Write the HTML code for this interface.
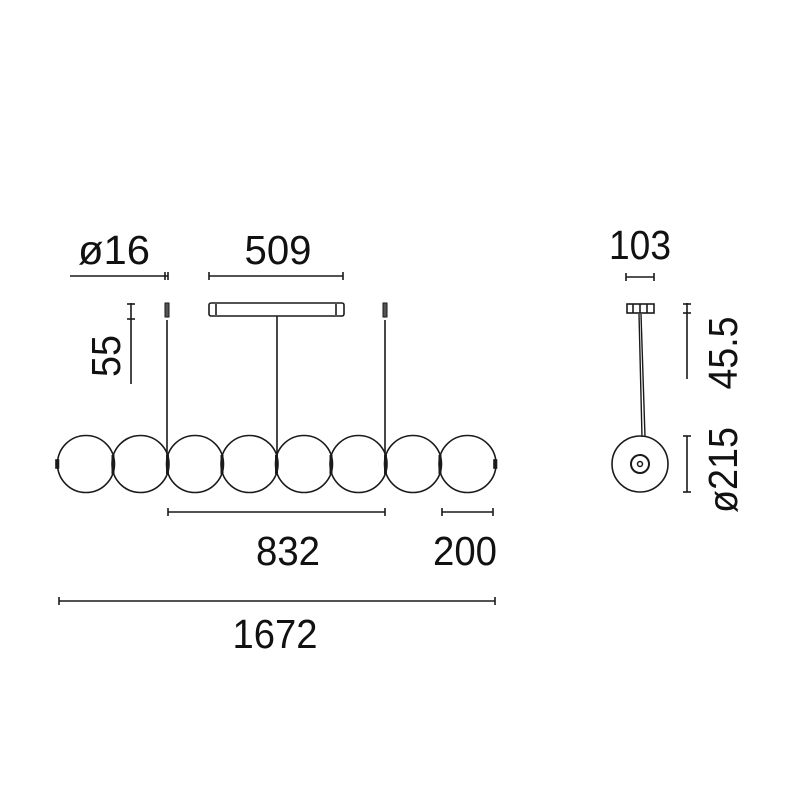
<!DOCTYPE html>
<html><head><meta charset="utf-8"><style>html,body{margin:0;padding:0;background:#fff}svg{display:block}</style></head>
<body>
<svg width="800" height="800" viewBox="0 0 800 800" xmlns="http://www.w3.org/2000/svg">
<rect width="800" height="800" fill="#fff"/>
<g fill="none" stroke="#1a1a1a" stroke-width="1.6">
  <!-- globes -->
  <circle cx="86" cy="464" r="28.5"/>
  <circle cx="140.5" cy="464" r="28.5"/>
  <circle cx="195" cy="464" r="28.5"/>
  <circle cx="249.5" cy="464" r="28.5"/>
  <circle cx="304" cy="464" r="28.5"/>
  <circle cx="358.5" cy="464" r="28.5"/>
  <circle cx="413" cy="464" r="28.5"/>
  <circle cx="467.5" cy="464" r="28.5"/>
  <!-- joints -->
  <g stroke-width="3">
    <line x1="113" y1="455" x2="113" y2="474"/>
    <line x1="167.5" y1="455" x2="167.5" y2="474"/>
    <line x1="222" y1="455" x2="222" y2="474"/>
    <line x1="276.5" y1="455" x2="276.5" y2="474"/>
    <line x1="331" y1="455" x2="331" y2="474"/>
    <line x1="385.5" y1="455" x2="385.5" y2="474"/>
    <line x1="440" y1="455" x2="440" y2="474"/>
  </g>
  <rect x="56" y="460" width="2.5" height="8" fill="#1a1a1a"/>
  <rect x="494" y="460" width="2.5" height="8" fill="#1a1a1a"/>
  <!-- cables -->
  <line x1="167" y1="320" x2="167" y2="456"/>
  <line x1="277" y1="316" x2="277" y2="456"/>
  <line x1="385" y1="320" x2="385" y2="456"/>
  <rect x="165" y="303" width="4" height="14" fill="#555" stroke-width="1"/>
  <rect x="383" y="303" width="4" height="14" fill="#555" stroke-width="1"/>
  <!-- canopy -->
  <rect x="209" y="303" width="135" height="13" rx="2"/>
  <line x1="216" y1="304" x2="216" y2="315"/>
  <line x1="336" y1="304" x2="336" y2="315"/>
  <!-- dims left -->
  <line x1="70" y1="276" x2="168" y2="276"/>
  <line x1="165" y1="272" x2="165" y2="280"/>
  <line x1="168" y1="272" x2="168" y2="280"/>
  <line x1="209" y1="276" x2="343" y2="276"/>
  <line x1="209" y1="272" x2="209" y2="280"/>
  <line x1="343" y1="272" x2="343" y2="280"/>
  <line x1="131" y1="303" x2="131" y2="384"/>
  <line x1="127" y1="304" x2="135" y2="304"/>
  <line x1="127" y1="319" x2="135" y2="319"/>
  <line x1="168" y1="512" x2="385" y2="512"/>
  <line x1="168" y1="508" x2="168" y2="516"/>
  <line x1="385" y1="508" x2="385" y2="516"/>
  <line x1="442" y1="512" x2="493" y2="512"/>
  <line x1="442" y1="508" x2="442" y2="516"/>
  <line x1="493" y1="508" x2="493" y2="516"/>
  <line x1="59" y1="601" x2="495" y2="601"/>
  <line x1="59" y1="597" x2="59" y2="605"/>
  <line x1="495" y1="597" x2="495" y2="605"/>
  <!-- side view -->
  <rect x="627" y="304" width="27" height="9"/>
  <line x1="633" y1="304" x2="633" y2="313"/>
  <line x1="640" y1="304" x2="640" y2="313"/>
  <line x1="647" y1="304" x2="647" y2="313"/>
  <line x1="639" y1="314" x2="642" y2="437" stroke-width="1.4"/>
  <line x1="641" y1="314" x2="645" y2="437" stroke-width="1.4"/>
  <circle cx="640" cy="464" r="28"/>
  <circle cx="640" cy="464" r="9" stroke-width="2"/>
  <circle cx="640" cy="464" r="2.5" stroke-width="1.5"/>
  <line x1="626" y1="277" x2="654" y2="277"/>
  <line x1="626" y1="273" x2="626" y2="281"/>
  <line x1="654" y1="273" x2="654" y2="281"/>
  <line x1="687" y1="303" x2="687" y2="379"/>
  <line x1="683" y1="304" x2="691" y2="304"/>
  <line x1="683" y1="313" x2="691" y2="313"/>
  <line x1="687" y1="436" x2="687" y2="492"/>
  <line x1="683" y1="436" x2="691" y2="436"/>
  <line x1="683" y1="492" x2="691" y2="492"/>
</g>
<g font-family="Liberation Sans, sans-serif" font-size="41" fill="#111" text-anchor="middle">
  <text x="114" y="264" textLength="72" lengthAdjust="spacingAndGlyphs">ø16</text>
  <text x="278" y="264" textLength="67" lengthAdjust="spacingAndGlyphs">509</text>
  <text x="288" y="565" textLength="64" lengthAdjust="spacingAndGlyphs">832</text>
  <text x="465" y="565" textLength="64" lengthAdjust="spacingAndGlyphs">200</text>
  <text x="275" y="648" textLength="85" lengthAdjust="spacingAndGlyphs">1672</text>
  <text x="640" y="259" textLength="62" lengthAdjust="spacingAndGlyphs">103</text>
  <text transform="translate(120,356) rotate(-90)" textLength="42" lengthAdjust="spacingAndGlyphs">55</text>
  <text transform="translate(737,353) rotate(-90)" textLength="73" lengthAdjust="spacingAndGlyphs">45.5</text>
  <text transform="translate(737,470) rotate(-90)" textLength="86" lengthAdjust="spacingAndGlyphs">ø215</text>
</g>
</svg>
</body></html>
